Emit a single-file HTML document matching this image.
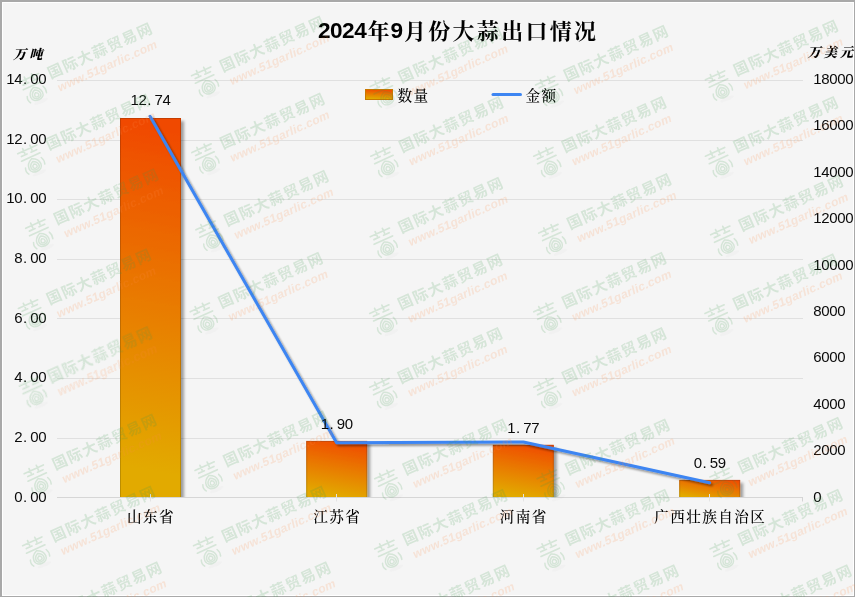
<!DOCTYPE html>
<html lang="zh-CN"><head><meta charset="utf-8"><title>2024年9月份大蒜出口情况</title>
<style>
html,body{margin:0;padding:0;background:#f5f5f5;}
body{width:855px;height:597px;overflow:hidden;}
svg{display:block}
.n{font-family:"Liberation Sans","Noto Sans CJK SC",sans-serif;font-size:15px;fill:#0a0a0a}
.k{font-family:"Liberation Serif","Noto Serif CJK SC",serif;font-size:14.6px;font-weight:500;fill:#000;letter-spacing:1.4px}
.kb{font-family:"Liberation Serif","Noto Serif CJK SC",serif;font-size:13.2px;font-weight:900;font-style:italic;fill:#000;letter-spacing:3px}
.t{font-family:"Liberation Serif","Noto Serif CJK SC",serif;font-size:22px;font-weight:700;fill:#000}
.td{font-family:"Liberation Sans","Noto Sans CJK SC",sans-serif;font-size:22.6px;font-weight:700;fill:#000}
.wg{font-family:"Liberation Sans","Noto Sans CJK SC",sans-serif;font-size:15px;font-weight:700;fill:#3f9a4c;letter-spacing:1.3px}
.wo{font-family:"Liberation Sans","Noto Sans CJK SC",sans-serif;font-size:12px;font-weight:700;font-style:italic;fill:#ff8c46;letter-spacing:.25px}
</style></head><body>
<svg width="855" height="597" viewBox="0 0 855 597">
<defs>
<linearGradient id="bg" x1="0.56" y1="0" x2="0.44" y2="1">
<stop offset="0" stop-color="#f04a00"/><stop offset="1" stop-color="#e0b000"/>
</linearGradient>
<linearGradient id="bgs" x1="0.56" y1="0" x2="0.44" y2="1">
<stop offset="0" stop-color="#c63c00"/><stop offset="1" stop-color="#bd9200"/>
</linearGradient>
<filter id="sh" x="-20%" y="-20%" width="150%" height="140%">
<feGaussianBlur in="SourceAlpha" stdDeviation="1.4"/><feOffset dx="2.5" dy="2.5"/>
<feComponentTransfer><feFuncA type="linear" slope="0.36"/></feComponentTransfer>
<feMerge><feMergeNode/><feMergeNode in="SourceGraphic"/></feMerge>
</filter>
<filter id="shl" x="-5%" y="-5%" width="110%" height="115%" filterUnits="userSpaceOnUse">
<feGaussianBlur in="SourceAlpha" stdDeviation="1.1"/><feOffset dx="1.5" dy="2.4"/>
<feComponentTransfer><feFuncA type="linear" slope="0.42"/></feComponentTransfer>
<feMerge><feMergeNode/><feMergeNode in="SourceGraphic"/></feMerge>
</filter>
</defs>

<rect x="0" y="0" width="855" height="597" fill="#a9a9a9"/>
<rect x="2" y="2" width="852" height="594" fill="#ffffff"/>
<rect x="3" y="3" width="850" height="592" fill="#f5f5f5"/>
<line x1="57.0" y1="80.5" x2="803.0" y2="80.5" stroke="#e0e0e0" stroke-width="1"/>
<line x1="57.0" y1="140.5" x2="803.0" y2="140.5" stroke="#e0e0e0" stroke-width="1"/>
<line x1="57.0" y1="199.5" x2="803.0" y2="199.5" stroke="#e0e0e0" stroke-width="1"/>
<line x1="57.0" y1="259.5" x2="803.0" y2="259.5" stroke="#e0e0e0" stroke-width="1"/>
<line x1="57.0" y1="318.5" x2="803.0" y2="318.5" stroke="#e0e0e0" stroke-width="1"/>
<line x1="57.0" y1="378.5" x2="803.0" y2="378.5" stroke="#e0e0e0" stroke-width="1"/>
<line x1="57.0" y1="438.5" x2="803.0" y2="438.5" stroke="#e0e0e0" stroke-width="1"/>
<line x1="57.0" y1="497.5" x2="803.0" y2="497.5" stroke="#d6d6d6" stroke-width="1"/>
<line x1="802.5" y1="497" x2="802.5" y2="501.5" stroke="#d4d4d4" stroke-width="1"/>
<clipPath id="pc"><rect x="0" y="0" width="855" height="497"/></clipPath><g clip-path="url(#pc)">
<linearGradient id="g0" gradientUnits="userSpaceOnUse" x1="181.0" y1="118.0" x2="114.4" y2="496.0"><stop offset="0.04" stop-color="#f04a00"/><stop offset="0.92" stop-color="#e2aa00"/></linearGradient>
<linearGradient id="s0" gradientUnits="userSpaceOnUse" x1="181.0" y1="118.0" x2="114.4" y2="496.0"><stop offset="0.04" stop-color="#c63c00"/><stop offset="0.92" stop-color="#bd8e00"/></linearGradient>
<rect x="120.5" y="118.5" width="60.0" height="379.0" fill="url(#g0)" stroke="url(#s0)" stroke-width="1" filter="url(#sh)"/>
<linearGradient id="g1" gradientUnits="userSpaceOnUse" x1="367.2" y1="440.9" x2="355.8" y2="505.7"><stop offset="0.04" stop-color="#f04a00"/><stop offset="0.92" stop-color="#e2aa00"/></linearGradient>
<linearGradient id="s1" gradientUnits="userSpaceOnUse" x1="367.2" y1="440.9" x2="355.8" y2="505.7"><stop offset="0.04" stop-color="#c63c00"/><stop offset="0.92" stop-color="#bd8e00"/></linearGradient>
<rect x="306.7" y="441.4" width="60.0" height="56.1" fill="url(#g1)" stroke="url(#s1)" stroke-width="1" filter="url(#sh)"/>
<linearGradient id="g2" gradientUnits="userSpaceOnUse" x1="553.8" y1="444.8" x2="543.0" y2="505.9"><stop offset="0.04" stop-color="#f04a00"/><stop offset="0.92" stop-color="#e2aa00"/></linearGradient>
<linearGradient id="s2" gradientUnits="userSpaceOnUse" x1="553.8" y1="444.8" x2="543.0" y2="505.9"><stop offset="0.04" stop-color="#c63c00"/><stop offset="0.92" stop-color="#bd8e00"/></linearGradient>
<rect x="493.3" y="445.3" width="60.0" height="52.2" fill="url(#g2)" stroke="url(#s2)" stroke-width="1" filter="url(#sh)"/>
<linearGradient id="g3" gradientUnits="userSpaceOnUse" x1="740.2" y1="479.9" x2="735.4" y2="506.9"><stop offset="0.04" stop-color="#f04a00"/><stop offset="0.92" stop-color="#e2aa00"/></linearGradient>
<linearGradient id="s3" gradientUnits="userSpaceOnUse" x1="740.2" y1="479.9" x2="735.4" y2="506.9"><stop offset="0.04" stop-color="#c63c00"/><stop offset="0.92" stop-color="#bd8e00"/></linearGradient>
<rect x="679.7" y="480.4" width="60.0" height="17.1" fill="url(#g3)" stroke="url(#s3)" stroke-width="1" filter="url(#sh)"/>
</g>
<line x1="150.5" y1="494" x2="150.5" y2="501.5" stroke="#e4e4e4" stroke-width="1"/>
<line x1="336.5" y1="494" x2="336.5" y2="501.5" stroke="#e4e4e4" stroke-width="1"/>
<line x1="523.5" y1="494" x2="523.5" y2="501.5" stroke="#e4e4e4" stroke-width="1"/>
<line x1="709.5" y1="494" x2="709.5" y2="501.5" stroke="#e4e4e4" stroke-width="1"/>
<polyline points="150.0,116.3 336.6,442.8 523.4,442.0 709.6,482.8" fill="none" stroke="#3d85f2" stroke-width="3" stroke-linejoin="round" stroke-linecap="round" filter="url(#shl)"/>
<text x="6.3 14.3 23.1 30.3 38.3" y="83.8" class="n" >14.00</text>
<text x="6.3 14.3 23.1 30.3 38.3" y="143.5" class="n" >12.00</text>
<text x="6.3 14.3 23.1 30.3 38.3" y="203.3" class="n" >10.00</text>
<text x="14.3 23.1 30.3 38.3" y="263.0" class="n" >8.00</text>
<text x="14.3 23.1 30.3 38.3" y="322.7" class="n" >6.00</text>
<text x="14.3 23.1 30.3 38.3" y="382.4" class="n" >4.00</text>
<text x="14.3 23.1 30.3 38.3" y="442.2" class="n" >2.00</text>
<text x="14.3 23.1 30.3 38.3" y="501.9" class="n" >0.00</text>
<text x="813.3 821.3 829.3 837.3 845.3" y="84.0" class="n" >18000</text>
<text x="813.3 821.3 829.3 837.3 845.3" y="130.4" class="n" >16000</text>
<text x="813.3 821.3 829.3 837.3 845.3" y="176.8" class="n" >14000</text>
<text x="813.3 821.3 829.3 837.3 845.3" y="223.2" class="n" >12000</text>
<text x="813.3 821.3 829.3 837.3 845.3" y="269.6" class="n" >10000</text>
<text x="813.3 821.3 829.3 837.3" y="315.9" class="n" >8000</text>
<text x="813.3 821.3 829.3 837.3" y="362.3" class="n" >6000</text>
<text x="813.3 821.3 829.3 837.3" y="408.7" class="n" >4000</text>
<text x="813.3 821.3 829.3 837.3" y="455.1" class="n" >2000</text>
<text x="813.3" y="501.5" class="n" >0</text>
<text x="130.5 138.5 147.3 154.5 162.5" y="105.2" class="n" >12.74</text>
<text x="320.7 329.5 336.7 344.7" y="428.5" class="n" >1.90</text>
<text x="507.3 516.1 523.3 531.3" y="432.6" class="n" >1.77</text>
<text x="693.7 702.5 709.7 717.7" y="468.4" class="n" >0.59</text>
<text x="151.0" y="522.3" text-anchor="middle" class="k">山东省</text>
<text x="337.2" y="522.3" text-anchor="middle" class="k">江苏省</text>
<text x="523.8" y="522.3" text-anchor="middle" class="k">河南省</text>
<text x="710.2" y="522.3" text-anchor="middle" class="k">广西壮族自治区</text>
<text x="13" y="59.3" class="kb">万吨</text>
<text x="807.5" y="57.3" class="kb">万美元</text>
<rect x="365.5" y="89.5" width="27" height="10" fill="url(#bg)" stroke="#c87800" stroke-width="1"/>
<text x="397.5" y="100.8" class="k" letter-spacing="1.8">数量</text>
<line x1="493" y1="94.5" x2="520.5" y2="94.5" stroke="#3d85f2" stroke-width="3" stroke-linecap="round"/>
<text x="525.5" y="100.8" class="k" letter-spacing="1.8">金额</text>
<text class="t" x="317.90 330.00 342.10 354.20 367.55 390.60 403.95 428.25 452.55 476.85 501.15 525.45 549.75 574.05" y="37.9 37.9 37.9 37.9 38.6 37.9 38.6 38.6 38.6 38.6 38.6 38.6 38.6 38.6"><tspan class="td">2024</tspan>年<tspan class="td">9</tspan>月份大蒜出口情况</text>
<g opacity="0.172">
<g transform="translate(35.0,87.0) rotate(-24.3)"><g transform="translate(-1.7,0.7) scale(0.88)"><g fill="none" stroke="#3f9a4c" stroke-width="1.9" stroke-linecap="round"><path d="M-12,-13H12M-4.5,-16V-10M4.5,-16V-10"/><path d="M-9.5,-8.3H-2.5M2.5,-8.3H9.5M-11.5,-3.4H11.5"/><path d="M0,-1.18C5.47,1.16 7.30,4.81 7.30,8.10C7.30,12.11 4.02,14.30 0,14.30C-4.02,14.30 -7.30,12.11 -7.30,8.10C-7.30,4.81 -5.47,1.16 0,-1.18Z" stroke-width="1.7"/><path d="M0,2.12C3.60,3.66 4.80,6.06 4.80,8.22C4.80,10.86 2.64,12.30 0,12.30C-2.64,12.30 -4.80,10.86 -4.80,8.22C-4.80,6.06 -3.60,3.66 0,2.12Z" stroke-width="1.7"/><path d="M0,5.31C1.80,6.08 2.40,7.28 2.40,8.36C2.40,9.68 1.32,10.40 0,10.40C-1.32,10.40 -2.40,9.68 -2.40,8.36C-2.40,7.28 -1.80,6.08 0,5.31Z" stroke-width="1.6"/><path d="M-10.6,5.5C-11.8,8 -11.6,11 -10,13.5M10.6,2C12,4.500 12.2,7.500 11.2,10.5" stroke-width="1.7"/></g><ellipse cx="1.5" cy="17" rx="8.5" ry="2.2" fill="#777" opacity="0.16"/></g><text x="17.5" y="-1" class="wg">国际大蒜贸易网</text><text x="20.5" y="14.5" class="wo">www.51garlic.com</text></g>
<g transform="translate(207.1,80.4) rotate(-24.3)"><g transform="translate(-1.7,0.7) scale(0.88)"><g fill="none" stroke="#3f9a4c" stroke-width="1.9" stroke-linecap="round"><path d="M-12,-13H12M-4.5,-16V-10M4.5,-16V-10"/><path d="M-9.5,-8.3H-2.5M2.5,-8.3H9.5M-11.5,-3.4H11.5"/><path d="M0,-1.18C5.47,1.16 7.30,4.81 7.30,8.10C7.30,12.11 4.02,14.30 0,14.30C-4.02,14.30 -7.30,12.11 -7.30,8.10C-7.30,4.81 -5.47,1.16 0,-1.18Z" stroke-width="1.7"/><path d="M0,2.12C3.60,3.66 4.80,6.06 4.80,8.22C4.80,10.86 2.64,12.30 0,12.30C-2.64,12.30 -4.80,10.86 -4.80,8.22C-4.80,6.06 -3.60,3.66 0,2.12Z" stroke-width="1.7"/><path d="M0,5.31C1.80,6.08 2.40,7.28 2.40,8.36C2.40,9.68 1.32,10.40 0,10.40C-1.32,10.40 -2.40,9.68 -2.40,8.36C-2.40,7.28 -1.80,6.08 0,5.31Z" stroke-width="1.6"/><path d="M-10.6,5.5C-11.8,8 -11.6,11 -10,13.5M10.6,2C12,4.500 12.2,7.500 11.2,10.5" stroke-width="1.7"/></g><ellipse cx="1.5" cy="17" rx="8.5" ry="2.2" fill="#777" opacity="0.16"/></g><text x="17.5" y="-1" class="wg">国际大蒜贸易网</text><text x="20.5" y="14.5" class="wo">www.51garlic.com</text></g>
<g transform="translate(385.8,91.3) rotate(-24.3)"><g transform="translate(-1.7,0.7) scale(0.88)"><g fill="none" stroke="#3f9a4c" stroke-width="1.9" stroke-linecap="round"><path d="M-12,-13H12M-4.5,-16V-10M4.5,-16V-10"/><path d="M-9.5,-8.3H-2.5M2.5,-8.3H9.5M-11.5,-3.4H11.5"/><path d="M0,-1.18C5.47,1.16 7.30,4.81 7.30,8.10C7.30,12.11 4.02,14.30 0,14.30C-4.02,14.30 -7.30,12.11 -7.30,8.10C-7.30,4.81 -5.47,1.16 0,-1.18Z" stroke-width="1.7"/><path d="M0,2.12C3.60,3.66 4.80,6.06 4.80,8.22C4.80,10.86 2.64,12.30 0,12.30C-2.64,12.30 -4.80,10.86 -4.80,8.22C-4.80,6.06 -3.60,3.66 0,2.12Z" stroke-width="1.7"/><path d="M0,5.31C1.80,6.08 2.40,7.28 2.40,8.36C2.40,9.68 1.32,10.40 0,10.40C-1.32,10.40 -2.40,9.68 -2.40,8.36C-2.40,7.28 -1.80,6.08 0,5.31Z" stroke-width="1.6"/><path d="M-10.6,5.5C-11.8,8 -11.6,11 -10,13.5M10.6,2C12,4.500 12.2,7.500 11.2,10.5" stroke-width="1.7"/></g><ellipse cx="1.5" cy="17" rx="8.5" ry="2.2" fill="#777" opacity="0.16"/></g><text x="17.5" y="-1" class="wg">国际大蒜贸易网</text><text x="20.5" y="14.5" class="wo">www.51garlic.com</text></g>
<g transform="translate(551.1,89.7) rotate(-24.3)"><g transform="translate(-1.7,0.7) scale(0.88)"><g fill="none" stroke="#3f9a4c" stroke-width="1.9" stroke-linecap="round"><path d="M-12,-13H12M-4.5,-16V-10M4.5,-16V-10"/><path d="M-9.5,-8.3H-2.5M2.5,-8.3H9.5M-11.5,-3.4H11.5"/><path d="M0,-1.18C5.47,1.16 7.30,4.81 7.30,8.10C7.30,12.11 4.02,14.30 0,14.30C-4.02,14.30 -7.30,12.11 -7.30,8.10C-7.30,4.81 -5.47,1.16 0,-1.18Z" stroke-width="1.7"/><path d="M0,2.12C3.60,3.66 4.80,6.06 4.80,8.22C4.80,10.86 2.64,12.30 0,12.30C-2.64,12.30 -4.80,10.86 -4.80,8.22C-4.80,6.06 -3.60,3.66 0,2.12Z" stroke-width="1.7"/><path d="M0,5.31C1.80,6.08 2.40,7.28 2.40,8.36C2.40,9.68 1.32,10.40 0,10.40C-1.32,10.40 -2.40,9.68 -2.40,8.36C-2.40,7.28 -1.80,6.08 0,5.31Z" stroke-width="1.6"/><path d="M-10.6,5.5C-11.8,8 -11.6,11 -10,13.5M10.6,2C12,4.500 12.2,7.500 11.2,10.5" stroke-width="1.7"/></g><ellipse cx="1.5" cy="17" rx="8.5" ry="2.2" fill="#777" opacity="0.16"/></g><text x="17.5" y="-1" class="wg">国际大蒜贸易网</text><text x="20.5" y="14.5" class="wo">www.51garlic.com</text></g>
<g transform="translate(721.0,84.4) rotate(-24.3)"><g transform="translate(-1.7,0.7) scale(0.88)"><g fill="none" stroke="#3f9a4c" stroke-width="1.9" stroke-linecap="round"><path d="M-12,-13H12M-4.5,-16V-10M4.5,-16V-10"/><path d="M-9.5,-8.3H-2.5M2.5,-8.3H9.5M-11.5,-3.4H11.5"/><path d="M0,-1.18C5.47,1.16 7.30,4.81 7.30,8.10C7.30,12.11 4.02,14.30 0,14.30C-4.02,14.30 -7.30,12.11 -7.30,8.10C-7.30,4.81 -5.47,1.16 0,-1.18Z" stroke-width="1.7"/><path d="M0,2.12C3.60,3.66 4.80,6.06 4.80,8.22C4.80,10.86 2.64,12.30 0,12.30C-2.64,12.30 -4.80,10.86 -4.80,8.22C-4.80,6.06 -3.60,3.66 0,2.12Z" stroke-width="1.7"/><path d="M0,5.31C1.80,6.08 2.40,7.28 2.40,8.36C2.40,9.68 1.32,10.40 0,10.40C-1.32,10.40 -2.40,9.68 -2.40,8.36C-2.40,7.28 -1.80,6.08 0,5.31Z" stroke-width="1.6"/><path d="M-10.6,5.5C-11.8,8 -11.6,11 -10,13.5M10.6,2C12,4.500 12.2,7.500 11.2,10.5" stroke-width="1.7"/></g><ellipse cx="1.5" cy="17" rx="8.5" ry="2.2" fill="#777" opacity="0.16"/></g><text x="17.5" y="-1" class="wg">国际大蒜贸易网</text><text x="20.5" y="14.5" class="wo">www.51garlic.com</text></g>
<g transform="translate(33.3,158.4) rotate(-24.3)"><g transform="translate(-1.7,0.7) scale(0.88)"><g fill="none" stroke="#3f9a4c" stroke-width="1.9" stroke-linecap="round"><path d="M-12,-13H12M-4.5,-16V-10M4.5,-16V-10"/><path d="M-9.5,-8.3H-2.5M2.5,-8.3H9.5M-11.5,-3.4H11.5"/><path d="M0,-1.18C5.47,1.16 7.30,4.81 7.30,8.10C7.30,12.11 4.02,14.30 0,14.30C-4.02,14.30 -7.30,12.11 -7.30,8.10C-7.30,4.81 -5.47,1.16 0,-1.18Z" stroke-width="1.7"/><path d="M0,2.12C3.60,3.66 4.80,6.06 4.80,8.22C4.80,10.86 2.64,12.30 0,12.30C-2.64,12.30 -4.80,10.86 -4.80,8.22C-4.80,6.06 -3.60,3.66 0,2.12Z" stroke-width="1.7"/><path d="M0,5.31C1.80,6.08 2.40,7.28 2.40,8.36C2.40,9.68 1.32,10.40 0,10.40C-1.32,10.40 -2.40,9.68 -2.40,8.36C-2.40,7.28 -1.80,6.08 0,5.31Z" stroke-width="1.6"/><path d="M-10.6,5.5C-11.8,8 -11.6,11 -10,13.5M10.6,2C12,4.500 12.2,7.500 11.2,10.5" stroke-width="1.7"/></g><ellipse cx="1.5" cy="17" rx="8.5" ry="2.2" fill="#777" opacity="0.16"/></g><text x="17.5" y="-1" class="wg">国际大蒜贸易网</text><text x="20.5" y="14.5" class="wo">www.51garlic.com</text></g>
<g transform="translate(207.5,157.3) rotate(-24.3)"><g transform="translate(-1.7,0.7) scale(0.88)"><g fill="none" stroke="#3f9a4c" stroke-width="1.9" stroke-linecap="round"><path d="M-12,-13H12M-4.5,-16V-10M4.5,-16V-10"/><path d="M-9.5,-8.3H-2.5M2.5,-8.3H9.5M-11.5,-3.4H11.5"/><path d="M0,-1.18C5.47,1.16 7.30,4.81 7.30,8.10C7.30,12.11 4.02,14.30 0,14.30C-4.02,14.30 -7.30,12.11 -7.30,8.10C-7.30,4.81 -5.47,1.16 0,-1.18Z" stroke-width="1.7"/><path d="M0,2.12C3.60,3.66 4.80,6.06 4.80,8.22C4.80,10.86 2.64,12.30 0,12.30C-2.64,12.30 -4.80,10.86 -4.80,8.22C-4.80,6.06 -3.60,3.66 0,2.12Z" stroke-width="1.7"/><path d="M0,5.31C1.80,6.08 2.40,7.28 2.40,8.36C2.40,9.68 1.32,10.40 0,10.40C-1.32,10.40 -2.40,9.68 -2.40,8.36C-2.40,7.28 -1.80,6.08 0,5.31Z" stroke-width="1.6"/><path d="M-10.6,5.5C-11.8,8 -11.6,11 -10,13.5M10.6,2C12,4.500 12.2,7.500 11.2,10.5" stroke-width="1.7"/></g><ellipse cx="1.5" cy="17" rx="8.5" ry="2.2" fill="#777" opacity="0.16"/></g><text x="17.5" y="-1" class="wg">国际大蒜贸易网</text><text x="20.5" y="14.5" class="wo">www.51garlic.com</text></g>
<g transform="translate(386.4,160.9) rotate(-24.3)"><g transform="translate(-1.7,0.7) scale(0.88)"><g fill="none" stroke="#3f9a4c" stroke-width="1.9" stroke-linecap="round"><path d="M-12,-13H12M-4.5,-16V-10M4.5,-16V-10"/><path d="M-9.5,-8.3H-2.5M2.5,-8.3H9.5M-11.5,-3.4H11.5"/><path d="M0,-1.18C5.47,1.16 7.30,4.81 7.30,8.10C7.30,12.11 4.02,14.30 0,14.30C-4.02,14.30 -7.30,12.11 -7.30,8.10C-7.30,4.81 -5.47,1.16 0,-1.18Z" stroke-width="1.7"/><path d="M0,2.12C3.60,3.66 4.80,6.06 4.80,8.22C4.80,10.86 2.64,12.30 0,12.30C-2.64,12.30 -4.80,10.86 -4.80,8.22C-4.80,6.06 -3.60,3.66 0,2.12Z" stroke-width="1.7"/><path d="M0,5.31C1.80,6.08 2.40,7.28 2.40,8.36C2.40,9.68 1.32,10.40 0,10.40C-1.32,10.40 -2.40,9.68 -2.40,8.36C-2.40,7.28 -1.80,6.08 0,5.31Z" stroke-width="1.6"/><path d="M-10.6,5.5C-11.8,8 -11.6,11 -10,13.5M10.6,2C12,4.500 12.2,7.500 11.2,10.5" stroke-width="1.7"/></g><ellipse cx="1.5" cy="17" rx="8.5" ry="2.2" fill="#777" opacity="0.16"/></g><text x="17.5" y="-1" class="wg">国际大蒜贸易网</text><text x="20.5" y="14.5" class="wo">www.51garlic.com</text></g>
<g transform="translate(549.3,160.9) rotate(-24.3)"><g transform="translate(-1.7,0.7) scale(0.88)"><g fill="none" stroke="#3f9a4c" stroke-width="1.9" stroke-linecap="round"><path d="M-12,-13H12M-4.5,-16V-10M4.5,-16V-10"/><path d="M-9.5,-8.3H-2.5M2.5,-8.3H9.5M-11.5,-3.4H11.5"/><path d="M0,-1.18C5.47,1.16 7.30,4.81 7.30,8.10C7.30,12.11 4.02,14.30 0,14.30C-4.02,14.30 -7.30,12.11 -7.30,8.10C-7.30,4.81 -5.47,1.16 0,-1.18Z" stroke-width="1.7"/><path d="M0,2.12C3.60,3.66 4.80,6.06 4.80,8.22C4.80,10.86 2.64,12.30 0,12.30C-2.64,12.30 -4.80,10.86 -4.80,8.22C-4.80,6.06 -3.60,3.66 0,2.12Z" stroke-width="1.7"/><path d="M0,5.31C1.80,6.08 2.40,7.28 2.40,8.36C2.40,9.68 1.32,10.40 0,10.40C-1.32,10.40 -2.40,9.68 -2.40,8.36C-2.40,7.28 -1.80,6.08 0,5.31Z" stroke-width="1.6"/><path d="M-10.6,5.5C-11.8,8 -11.6,11 -10,13.5M10.6,2C12,4.500 12.2,7.500 11.2,10.5" stroke-width="1.7"/></g><ellipse cx="1.5" cy="17" rx="8.5" ry="2.2" fill="#777" opacity="0.16"/></g><text x="17.5" y="-1" class="wg">国际大蒜贸易网</text><text x="20.5" y="14.5" class="wo">www.51garlic.com</text></g>
<g transform="translate(721.0,160.9) rotate(-24.3)"><g transform="translate(-1.7,0.7) scale(0.88)"><g fill="none" stroke="#3f9a4c" stroke-width="1.9" stroke-linecap="round"><path d="M-12,-13H12M-4.5,-16V-10M4.5,-16V-10"/><path d="M-9.5,-8.3H-2.5M2.5,-8.3H9.5M-11.5,-3.4H11.5"/><path d="M0,-1.18C5.47,1.16 7.30,4.81 7.30,8.10C7.30,12.11 4.02,14.30 0,14.30C-4.02,14.30 -7.30,12.11 -7.30,8.10C-7.30,4.81 -5.47,1.16 0,-1.18Z" stroke-width="1.7"/><path d="M0,2.12C3.60,3.66 4.80,6.06 4.80,8.22C4.80,10.86 2.64,12.30 0,12.30C-2.64,12.30 -4.80,10.86 -4.80,8.22C-4.80,6.06 -3.60,3.66 0,2.12Z" stroke-width="1.7"/><path d="M0,5.31C1.80,6.08 2.40,7.28 2.40,8.36C2.40,9.68 1.32,10.40 0,10.40C-1.32,10.40 -2.40,9.68 -2.40,8.36C-2.40,7.28 -1.80,6.08 0,5.31Z" stroke-width="1.6"/><path d="M-10.6,5.5C-11.8,8 -11.6,11 -10,13.5M10.6,2C12,4.500 12.2,7.500 11.2,10.5" stroke-width="1.7"/></g><ellipse cx="1.5" cy="17" rx="8.5" ry="2.2" fill="#777" opacity="0.16"/></g><text x="17.5" y="-1" class="wg">国际大蒜贸易网</text><text x="20.5" y="14.5" class="wo">www.51garlic.com</text></g>
<g transform="translate(41.3,233.0) rotate(-24.3)"><g transform="translate(-1.7,0.7) scale(0.88)"><g fill="none" stroke="#3f9a4c" stroke-width="1.9" stroke-linecap="round"><path d="M-12,-13H12M-4.5,-16V-10M4.5,-16V-10"/><path d="M-9.5,-8.3H-2.5M2.5,-8.3H9.5M-11.5,-3.4H11.5"/><path d="M0,-1.18C5.47,1.16 7.30,4.81 7.30,8.10C7.30,12.11 4.02,14.30 0,14.30C-4.02,14.30 -7.30,12.11 -7.30,8.10C-7.30,4.81 -5.47,1.16 0,-1.18Z" stroke-width="1.7"/><path d="M0,2.12C3.60,3.66 4.80,6.06 4.80,8.22C4.80,10.86 2.64,12.30 0,12.30C-2.64,12.30 -4.80,10.86 -4.80,8.22C-4.80,6.06 -3.60,3.66 0,2.12Z" stroke-width="1.7"/><path d="M0,5.31C1.80,6.08 2.40,7.28 2.40,8.36C2.40,9.68 1.32,10.40 0,10.40C-1.32,10.40 -2.40,9.68 -2.40,8.36C-2.40,7.28 -1.80,6.08 0,5.31Z" stroke-width="1.6"/><path d="M-10.6,5.5C-11.8,8 -11.6,11 -10,13.5M10.6,2C12,4.500 12.2,7.500 11.2,10.5" stroke-width="1.7"/></g><ellipse cx="1.5" cy="17" rx="8.5" ry="2.2" fill="#777" opacity="0.16"/></g><text x="17.5" y="-1" class="wg">国际大蒜贸易网</text><text x="20.5" y="14.5" class="wo">www.51garlic.com</text></g>
<g transform="translate(211.5,234.5) rotate(-24.3)"><g transform="translate(-1.7,0.7) scale(0.88)"><g fill="none" stroke="#3f9a4c" stroke-width="1.9" stroke-linecap="round"><path d="M-12,-13H12M-4.5,-16V-10M4.5,-16V-10"/><path d="M-9.5,-8.3H-2.5M2.5,-8.3H9.5M-11.5,-3.4H11.5"/><path d="M0,-1.18C5.47,1.16 7.30,4.81 7.30,8.10C7.30,12.11 4.02,14.30 0,14.30C-4.02,14.30 -7.30,12.11 -7.30,8.10C-7.30,4.81 -5.47,1.16 0,-1.18Z" stroke-width="1.7"/><path d="M0,2.12C3.60,3.66 4.80,6.06 4.80,8.22C4.80,10.86 2.64,12.30 0,12.30C-2.64,12.30 -4.80,10.86 -4.80,8.22C-4.80,6.06 -3.60,3.66 0,2.12Z" stroke-width="1.7"/><path d="M0,5.31C1.80,6.08 2.40,7.28 2.40,8.36C2.40,9.68 1.32,10.40 0,10.40C-1.32,10.40 -2.40,9.68 -2.40,8.36C-2.40,7.28 -1.80,6.08 0,5.31Z" stroke-width="1.6"/><path d="M-10.6,5.5C-11.8,8 -11.6,11 -10,13.5M10.6,2C12,4.500 12.2,7.500 11.2,10.5" stroke-width="1.7"/></g><ellipse cx="1.5" cy="17" rx="8.5" ry="2.2" fill="#777" opacity="0.16"/></g><text x="17.5" y="-1" class="wg">国际大蒜贸易网</text><text x="20.5" y="14.5" class="wo">www.51garlic.com</text></g>
<g transform="translate(385.8,241.5) rotate(-24.3)"><g transform="translate(-1.7,0.7) scale(0.88)"><g fill="none" stroke="#3f9a4c" stroke-width="1.9" stroke-linecap="round"><path d="M-12,-13H12M-4.5,-16V-10M4.5,-16V-10"/><path d="M-9.5,-8.3H-2.5M2.5,-8.3H9.5M-11.5,-3.4H11.5"/><path d="M0,-1.18C5.47,1.16 7.30,4.81 7.30,8.10C7.30,12.11 4.02,14.30 0,14.30C-4.02,14.30 -7.30,12.11 -7.30,8.10C-7.30,4.81 -5.47,1.16 0,-1.18Z" stroke-width="1.7"/><path d="M0,2.12C3.60,3.66 4.80,6.06 4.80,8.22C4.80,10.86 2.64,12.30 0,12.30C-2.64,12.30 -4.80,10.86 -4.80,8.22C-4.80,6.06 -3.60,3.66 0,2.12Z" stroke-width="1.7"/><path d="M0,5.31C1.80,6.08 2.40,7.28 2.40,8.36C2.40,9.68 1.32,10.40 0,10.40C-1.32,10.40 -2.40,9.68 -2.40,8.36C-2.40,7.28 -1.80,6.08 0,5.31Z" stroke-width="1.6"/><path d="M-10.6,5.5C-11.8,8 -11.6,11 -10,13.5M10.6,2C12,4.500 12.2,7.500 11.2,10.5" stroke-width="1.7"/></g><ellipse cx="1.5" cy="17" rx="8.5" ry="2.2" fill="#777" opacity="0.16"/></g><text x="17.5" y="-1" class="wg">国际大蒜贸易网</text><text x="20.5" y="14.5" class="wo">www.51garlic.com</text></g>
<g transform="translate(554.4,237.8) rotate(-24.3)"><g transform="translate(-1.7,0.7) scale(0.88)"><g fill="none" stroke="#3f9a4c" stroke-width="1.9" stroke-linecap="round"><path d="M-12,-13H12M-4.5,-16V-10M4.5,-16V-10"/><path d="M-9.5,-8.3H-2.5M2.5,-8.3H9.5M-11.5,-3.4H11.5"/><path d="M0,-1.18C5.47,1.16 7.30,4.81 7.30,8.10C7.30,12.11 4.02,14.30 0,14.30C-4.02,14.30 -7.30,12.11 -7.30,8.10C-7.30,4.81 -5.47,1.16 0,-1.18Z" stroke-width="1.7"/><path d="M0,2.12C3.60,3.66 4.80,6.06 4.80,8.22C4.80,10.86 2.64,12.30 0,12.30C-2.64,12.30 -4.80,10.86 -4.80,8.22C-4.80,6.06 -3.60,3.66 0,2.12Z" stroke-width="1.7"/><path d="M0,5.31C1.80,6.08 2.40,7.28 2.40,8.36C2.40,9.68 1.32,10.40 0,10.40C-1.32,10.40 -2.40,9.68 -2.40,8.36C-2.40,7.28 -1.80,6.08 0,5.31Z" stroke-width="1.6"/><path d="M-10.6,5.5C-11.8,8 -11.6,11 -10,13.5M10.6,2C12,4.500 12.2,7.500 11.2,10.5" stroke-width="1.7"/></g><ellipse cx="1.5" cy="17" rx="8.5" ry="2.2" fill="#777" opacity="0.16"/></g><text x="17.5" y="-1" class="wg">国际大蒜贸易网</text><text x="20.5" y="14.5" class="wo">www.51garlic.com</text></g>
<g transform="translate(726.2,239.5) rotate(-24.3)"><g transform="translate(-1.7,0.7) scale(0.88)"><g fill="none" stroke="#3f9a4c" stroke-width="1.9" stroke-linecap="round"><path d="M-12,-13H12M-4.5,-16V-10M4.5,-16V-10"/><path d="M-9.5,-8.3H-2.5M2.5,-8.3H9.5M-11.5,-3.4H11.5"/><path d="M0,-1.18C5.47,1.16 7.30,4.81 7.30,8.10C7.30,12.11 4.02,14.30 0,14.30C-4.02,14.30 -7.30,12.11 -7.30,8.10C-7.30,4.81 -5.47,1.16 0,-1.18Z" stroke-width="1.7"/><path d="M0,2.12C3.60,3.66 4.80,6.06 4.80,8.22C4.80,10.86 2.64,12.30 0,12.30C-2.64,12.30 -4.80,10.86 -4.80,8.22C-4.80,6.06 -3.60,3.66 0,2.12Z" stroke-width="1.7"/><path d="M0,5.31C1.80,6.08 2.40,7.28 2.40,8.36C2.40,9.68 1.32,10.40 0,10.40C-1.32,10.40 -2.40,9.68 -2.40,8.36C-2.40,7.28 -1.80,6.08 0,5.31Z" stroke-width="1.6"/><path d="M-10.6,5.5C-11.8,8 -11.6,11 -10,13.5M10.6,2C12,4.500 12.2,7.500 11.2,10.5" stroke-width="1.7"/></g><ellipse cx="1.5" cy="17" rx="8.5" ry="2.2" fill="#777" opacity="0.16"/></g><text x="17.5" y="-1" class="wg">国际大蒜贸易网</text><text x="20.5" y="14.5" class="wo">www.51garlic.com</text></g>
<g transform="translate(34.0,313.2) rotate(-24.3)"><g transform="translate(-1.7,0.7) scale(0.88)"><g fill="none" stroke="#3f9a4c" stroke-width="1.9" stroke-linecap="round"><path d="M-12,-13H12M-4.5,-16V-10M4.5,-16V-10"/><path d="M-9.5,-8.3H-2.5M2.5,-8.3H9.5M-11.5,-3.4H11.5"/><path d="M0,-1.18C5.47,1.16 7.30,4.81 7.30,8.10C7.30,12.11 4.02,14.30 0,14.30C-4.02,14.30 -7.30,12.11 -7.30,8.10C-7.30,4.81 -5.47,1.16 0,-1.18Z" stroke-width="1.7"/><path d="M0,2.12C3.60,3.66 4.80,6.06 4.80,8.22C4.80,10.86 2.64,12.30 0,12.30C-2.64,12.30 -4.80,10.86 -4.80,8.22C-4.80,6.06 -3.60,3.66 0,2.12Z" stroke-width="1.7"/><path d="M0,5.31C1.80,6.08 2.40,7.28 2.40,8.36C2.40,9.68 1.32,10.40 0,10.40C-1.32,10.40 -2.40,9.68 -2.40,8.36C-2.40,7.28 -1.80,6.08 0,5.31Z" stroke-width="1.6"/><path d="M-10.6,5.5C-11.8,8 -11.6,11 -10,13.5M10.6,2C12,4.500 12.2,7.500 11.2,10.5" stroke-width="1.7"/></g><ellipse cx="1.5" cy="17" rx="8.5" ry="2.2" fill="#777" opacity="0.16"/></g><text x="17.5" y="-1" class="wg">国际大蒜贸易网</text><text x="20.5" y="14.5" class="wo">www.51garlic.com</text></g>
<g transform="translate(205.8,316.5) rotate(-24.3)"><g transform="translate(-1.7,0.7) scale(0.88)"><g fill="none" stroke="#3f9a4c" stroke-width="1.9" stroke-linecap="round"><path d="M-12,-13H12M-4.5,-16V-10M4.5,-16V-10"/><path d="M-9.5,-8.3H-2.5M2.5,-8.3H9.5M-11.5,-3.4H11.5"/><path d="M0,-1.18C5.47,1.16 7.30,4.81 7.30,8.10C7.30,12.11 4.02,14.30 0,14.30C-4.02,14.30 -7.30,12.11 -7.30,8.10C-7.30,4.81 -5.47,1.16 0,-1.18Z" stroke-width="1.7"/><path d="M0,2.12C3.60,3.66 4.80,6.06 4.80,8.22C4.80,10.86 2.64,12.30 0,12.30C-2.64,12.30 -4.80,10.86 -4.80,8.22C-4.80,6.06 -3.60,3.66 0,2.12Z" stroke-width="1.7"/><path d="M0,5.31C1.80,6.08 2.40,7.28 2.40,8.36C2.40,9.68 1.32,10.40 0,10.40C-1.32,10.40 -2.40,9.68 -2.40,8.36C-2.40,7.28 -1.80,6.08 0,5.31Z" stroke-width="1.6"/><path d="M-10.6,5.5C-11.8,8 -11.6,11 -10,13.5M10.6,2C12,4.500 12.2,7.500 11.2,10.5" stroke-width="1.7"/></g><ellipse cx="1.5" cy="17" rx="8.5" ry="2.2" fill="#777" opacity="0.16"/></g><text x="17.5" y="-1" class="wg">国际大蒜贸易网</text><text x="20.5" y="14.5" class="wo">www.51garlic.com</text></g>
<g transform="translate(385.3,318.2) rotate(-24.3)"><g transform="translate(-1.7,0.7) scale(0.88)"><g fill="none" stroke="#3f9a4c" stroke-width="1.9" stroke-linecap="round"><path d="M-12,-13H12M-4.5,-16V-10M4.5,-16V-10"/><path d="M-9.5,-8.3H-2.5M2.5,-8.3H9.5M-11.5,-3.4H11.5"/><path d="M0,-1.18C5.47,1.16 7.30,4.81 7.30,8.10C7.30,12.11 4.02,14.30 0,14.30C-4.02,14.30 -7.30,12.11 -7.30,8.10C-7.30,4.81 -5.47,1.16 0,-1.18Z" stroke-width="1.7"/><path d="M0,2.12C3.60,3.66 4.80,6.06 4.80,8.22C4.80,10.86 2.64,12.30 0,12.30C-2.64,12.30 -4.80,10.86 -4.80,8.22C-4.80,6.06 -3.60,3.66 0,2.12Z" stroke-width="1.7"/><path d="M0,5.31C1.80,6.08 2.40,7.28 2.40,8.36C2.40,9.68 1.32,10.40 0,10.40C-1.32,10.40 -2.40,9.68 -2.40,8.36C-2.40,7.28 -1.80,6.08 0,5.31Z" stroke-width="1.6"/><path d="M-10.6,5.5C-11.8,8 -11.6,11 -10,13.5M10.6,2C12,4.500 12.2,7.500 11.2,10.5" stroke-width="1.7"/></g><ellipse cx="1.5" cy="17" rx="8.5" ry="2.2" fill="#777" opacity="0.16"/></g><text x="17.5" y="-1" class="wg">国际大蒜贸易网</text><text x="20.5" y="14.5" class="wo">www.51garlic.com</text></g>
<g transform="translate(549.4,316.5) rotate(-24.3)"><g transform="translate(-1.7,0.7) scale(0.88)"><g fill="none" stroke="#3f9a4c" stroke-width="1.9" stroke-linecap="round"><path d="M-12,-13H12M-4.5,-16V-10M4.5,-16V-10"/><path d="M-9.5,-8.3H-2.5M2.5,-8.3H9.5M-11.5,-3.4H11.5"/><path d="M0,-1.18C5.47,1.16 7.30,4.81 7.30,8.10C7.30,12.11 4.02,14.30 0,14.30C-4.02,14.30 -7.30,12.11 -7.30,8.10C-7.30,4.81 -5.47,1.16 0,-1.18Z" stroke-width="1.7"/><path d="M0,2.12C3.60,3.66 4.80,6.06 4.80,8.22C4.80,10.86 2.64,12.30 0,12.30C-2.64,12.30 -4.80,10.86 -4.80,8.22C-4.80,6.06 -3.60,3.66 0,2.12Z" stroke-width="1.7"/><path d="M0,5.31C1.80,6.08 2.40,7.28 2.40,8.36C2.40,9.68 1.32,10.40 0,10.40C-1.32,10.40 -2.40,9.68 -2.40,8.36C-2.40,7.28 -1.80,6.08 0,5.31Z" stroke-width="1.6"/><path d="M-10.6,5.5C-11.8,8 -11.6,11 -10,13.5M10.6,2C12,4.500 12.2,7.500 11.2,10.5" stroke-width="1.7"/></g><ellipse cx="1.5" cy="17" rx="8.5" ry="2.2" fill="#777" opacity="0.16"/></g><text x="17.5" y="-1" class="wg">国际大蒜贸易网</text><text x="20.5" y="14.5" class="wo">www.51garlic.com</text></g>
<g transform="translate(720.5,318.2) rotate(-24.3)"><g transform="translate(-1.7,0.7) scale(0.88)"><g fill="none" stroke="#3f9a4c" stroke-width="1.9" stroke-linecap="round"><path d="M-12,-13H12M-4.5,-16V-10M4.5,-16V-10"/><path d="M-9.5,-8.3H-2.5M2.5,-8.3H9.5M-11.5,-3.4H11.5"/><path d="M0,-1.18C5.47,1.16 7.30,4.81 7.30,8.10C7.30,12.11 4.02,14.30 0,14.30C-4.02,14.30 -7.30,12.11 -7.30,8.10C-7.30,4.81 -5.47,1.16 0,-1.18Z" stroke-width="1.7"/><path d="M0,2.12C3.60,3.66 4.80,6.06 4.80,8.22C4.80,10.86 2.64,12.30 0,12.30C-2.64,12.30 -4.80,10.86 -4.80,8.22C-4.80,6.06 -3.60,3.66 0,2.12Z" stroke-width="1.7"/><path d="M0,5.31C1.80,6.08 2.40,7.28 2.40,8.36C2.40,9.68 1.32,10.40 0,10.40C-1.32,10.40 -2.40,9.68 -2.40,8.36C-2.40,7.28 -1.80,6.08 0,5.31Z" stroke-width="1.6"/><path d="M-10.6,5.5C-11.8,8 -11.6,11 -10,13.5M10.6,2C12,4.500 12.2,7.500 11.2,10.5" stroke-width="1.7"/></g><ellipse cx="1.5" cy="17" rx="8.5" ry="2.2" fill="#777" opacity="0.16"/></g><text x="17.5" y="-1" class="wg">国际大蒜贸易网</text><text x="20.5" y="14.5" class="wo">www.51garlic.com</text></g>
<g transform="translate(35.0,390.9) rotate(-24.3)"><g transform="translate(-1.7,0.7) scale(0.88)"><g fill="none" stroke="#3f9a4c" stroke-width="1.9" stroke-linecap="round"><path d="M-12,-13H12M-4.5,-16V-10M4.5,-16V-10"/><path d="M-9.5,-8.3H-2.5M2.5,-8.3H9.5M-11.5,-3.4H11.5"/><path d="M0,-1.18C5.47,1.16 7.30,4.81 7.30,8.10C7.30,12.11 4.02,14.30 0,14.30C-4.02,14.30 -7.30,12.11 -7.30,8.10C-7.30,4.81 -5.47,1.16 0,-1.18Z" stroke-width="1.7"/><path d="M0,2.12C3.60,3.66 4.80,6.06 4.80,8.22C4.80,10.86 2.64,12.30 0,12.30C-2.64,12.30 -4.80,10.86 -4.80,8.22C-4.80,6.06 -3.60,3.66 0,2.12Z" stroke-width="1.7"/><path d="M0,5.31C1.80,6.08 2.40,7.28 2.40,8.36C2.40,9.68 1.32,10.40 0,10.40C-1.32,10.40 -2.40,9.68 -2.40,8.36C-2.40,7.28 -1.80,6.08 0,5.31Z" stroke-width="1.6"/><path d="M-10.6,5.5C-11.8,8 -11.6,11 -10,13.5M10.6,2C12,4.500 12.2,7.500 11.2,10.5" stroke-width="1.7"/></g><ellipse cx="1.5" cy="17" rx="8.5" ry="2.2" fill="#777" opacity="0.16"/></g><text x="17.5" y="-1" class="wg">国际大蒜贸易网</text><text x="20.5" y="14.5" class="wo">www.51garlic.com</text></g>
<g transform="translate(385.3,391.9) rotate(-24.3)"><g transform="translate(-1.7,0.7) scale(0.88)"><g fill="none" stroke="#3f9a4c" stroke-width="1.9" stroke-linecap="round"><path d="M-12,-13H12M-4.5,-16V-10M4.5,-16V-10"/><path d="M-9.5,-8.3H-2.5M2.5,-8.3H9.5M-11.5,-3.4H11.5"/><path d="M0,-1.18C5.47,1.16 7.30,4.81 7.30,8.10C7.30,12.11 4.02,14.30 0,14.30C-4.02,14.30 -7.30,12.11 -7.30,8.10C-7.30,4.81 -5.47,1.16 0,-1.18Z" stroke-width="1.7"/><path d="M0,2.12C3.60,3.66 4.80,6.06 4.80,8.22C4.80,10.86 2.64,12.30 0,12.30C-2.64,12.30 -4.80,10.86 -4.80,8.22C-4.80,6.06 -3.60,3.66 0,2.12Z" stroke-width="1.7"/><path d="M0,5.31C1.80,6.08 2.40,7.28 2.40,8.36C2.40,9.68 1.32,10.40 0,10.40C-1.32,10.40 -2.40,9.68 -2.40,8.36C-2.40,7.28 -1.80,6.08 0,5.31Z" stroke-width="1.6"/><path d="M-10.6,5.5C-11.8,8 -11.6,11 -10,13.5M10.6,2C12,4.500 12.2,7.500 11.2,10.5" stroke-width="1.7"/></g><ellipse cx="1.5" cy="17" rx="8.5" ry="2.2" fill="#777" opacity="0.16"/></g><text x="17.5" y="-1" class="wg">国际大蒜贸易网</text><text x="20.5" y="14.5" class="wo">www.51garlic.com</text></g>
<g transform="translate(549.4,391.9) rotate(-24.3)"><g transform="translate(-1.7,0.7) scale(0.88)"><g fill="none" stroke="#3f9a4c" stroke-width="1.9" stroke-linecap="round"><path d="M-12,-13H12M-4.5,-16V-10M4.5,-16V-10"/><path d="M-9.5,-8.3H-2.5M2.5,-8.3H9.5M-11.5,-3.4H11.5"/><path d="M0,-1.18C5.47,1.16 7.30,4.81 7.30,8.10C7.30,12.11 4.02,14.30 0,14.30C-4.02,14.30 -7.30,12.11 -7.30,8.10C-7.30,4.81 -5.47,1.16 0,-1.18Z" stroke-width="1.7"/><path d="M0,2.12C3.60,3.66 4.80,6.06 4.80,8.22C4.80,10.86 2.64,12.30 0,12.30C-2.64,12.30 -4.80,10.86 -4.80,8.22C-4.80,6.06 -3.60,3.66 0,2.12Z" stroke-width="1.7"/><path d="M0,5.31C1.80,6.08 2.40,7.28 2.40,8.36C2.40,9.68 1.32,10.40 0,10.40C-1.32,10.40 -2.40,9.68 -2.40,8.36C-2.40,7.28 -1.80,6.08 0,5.31Z" stroke-width="1.6"/><path d="M-10.6,5.5C-11.8,8 -11.6,11 -10,13.5M10.6,2C12,4.500 12.2,7.500 11.2,10.5" stroke-width="1.7"/></g><ellipse cx="1.5" cy="17" rx="8.5" ry="2.2" fill="#777" opacity="0.16"/></g><text x="17.5" y="-1" class="wg">国际大蒜贸易网</text><text x="20.5" y="14.5" class="wo">www.51garlic.com</text></g>
<g transform="translate(39.7,478.4) rotate(-24.3)"><g transform="translate(-1.7,0.7) scale(0.88)"><g fill="none" stroke="#3f9a4c" stroke-width="1.9" stroke-linecap="round"><path d="M-12,-13H12M-4.5,-16V-10M4.5,-16V-10"/><path d="M-9.5,-8.3H-2.5M2.5,-8.3H9.5M-11.5,-3.4H11.5"/><path d="M0,-1.18C5.47,1.16 7.30,4.81 7.30,8.10C7.30,12.11 4.02,14.30 0,14.30C-4.02,14.30 -7.30,12.11 -7.30,8.10C-7.30,4.81 -5.47,1.16 0,-1.18Z" stroke-width="1.7"/><path d="M0,2.12C3.60,3.66 4.80,6.06 4.80,8.22C4.80,10.86 2.64,12.30 0,12.30C-2.64,12.30 -4.80,10.86 -4.80,8.22C-4.80,6.06 -3.60,3.66 0,2.12Z" stroke-width="1.7"/><path d="M0,5.31C1.80,6.08 2.40,7.28 2.40,8.36C2.40,9.68 1.32,10.40 0,10.40C-1.32,10.40 -2.40,9.68 -2.40,8.36C-2.40,7.28 -1.80,6.08 0,5.31Z" stroke-width="1.6"/><path d="M-10.6,5.5C-11.8,8 -11.6,11 -10,13.5M10.6,2C12,4.500 12.2,7.500 11.2,10.5" stroke-width="1.7"/></g><ellipse cx="1.5" cy="17" rx="8.5" ry="2.2" fill="#777" opacity="0.16"/></g><text x="17.5" y="-1" class="wg">国际大蒜贸易网</text><text x="20.5" y="14.5" class="wo">www.51garlic.com</text></g>
<g transform="translate(210.6,475.2) rotate(-24.3)"><g transform="translate(-1.7,0.7) scale(0.88)"><g fill="none" stroke="#3f9a4c" stroke-width="1.9" stroke-linecap="round"><path d="M-12,-13H12M-4.5,-16V-10M4.5,-16V-10"/><path d="M-9.5,-8.3H-2.5M2.5,-8.3H9.5M-11.5,-3.4H11.5"/><path d="M0,-1.18C5.47,1.16 7.30,4.81 7.30,8.10C7.30,12.11 4.02,14.30 0,14.30C-4.02,14.30 -7.30,12.11 -7.30,8.10C-7.30,4.81 -5.47,1.16 0,-1.18Z" stroke-width="1.7"/><path d="M0,2.12C3.60,3.66 4.80,6.06 4.80,8.22C4.80,10.86 2.64,12.30 0,12.30C-2.64,12.30 -4.80,10.86 -4.80,8.22C-4.80,6.06 -3.60,3.66 0,2.12Z" stroke-width="1.7"/><path d="M0,5.31C1.80,6.08 2.40,7.28 2.40,8.36C2.40,9.68 1.32,10.40 0,10.40C-1.32,10.40 -2.40,9.68 -2.40,8.36C-2.40,7.28 -1.80,6.08 0,5.31Z" stroke-width="1.6"/><path d="M-10.6,5.5C-11.8,8 -11.6,11 -10,13.5M10.6,2C12,4.500 12.2,7.500 11.2,10.5" stroke-width="1.7"/></g><ellipse cx="1.5" cy="17" rx="8.5" ry="2.2" fill="#777" opacity="0.16"/></g><text x="17.5" y="-1" class="wg">国际大蒜贸易网</text><text x="20.5" y="14.5" class="wo">www.51garlic.com</text></g>
<g transform="translate(390.3,483.4) rotate(-24.3)"><g transform="translate(-1.7,0.7) scale(0.88)"><g fill="none" stroke="#3f9a4c" stroke-width="1.9" stroke-linecap="round"><path d="M-12,-13H12M-4.5,-16V-10M4.5,-16V-10"/><path d="M-9.5,-8.3H-2.5M2.5,-8.3H9.5M-11.5,-3.4H11.5"/><path d="M0,-1.18C5.47,1.16 7.30,4.81 7.30,8.10C7.30,12.11 4.02,14.30 0,14.30C-4.02,14.30 -7.30,12.11 -7.30,8.10C-7.30,4.81 -5.47,1.16 0,-1.18Z" stroke-width="1.7"/><path d="M0,2.12C3.60,3.66 4.80,6.06 4.80,8.22C4.80,10.86 2.64,12.30 0,12.30C-2.64,12.30 -4.80,10.86 -4.80,8.22C-4.80,6.06 -3.60,3.66 0,2.12Z" stroke-width="1.7"/><path d="M0,5.31C1.80,6.08 2.40,7.28 2.40,8.36C2.40,9.68 1.32,10.40 0,10.40C-1.32,10.40 -2.40,9.68 -2.40,8.36C-2.40,7.28 -1.80,6.08 0,5.31Z" stroke-width="1.6"/><path d="M-10.6,5.5C-11.8,8 -11.6,11 -10,13.5M10.6,2C12,4.500 12.2,7.500 11.2,10.5" stroke-width="1.7"/></g><ellipse cx="1.5" cy="17" rx="8.5" ry="2.2" fill="#777" opacity="0.16"/></g><text x="17.5" y="-1" class="wg">国际大蒜贸易网</text><text x="20.5" y="14.5" class="wo">www.51garlic.com</text></g>
<g transform="translate(552.7,483.4) rotate(-24.3)"><g transform="translate(-1.7,0.7) scale(0.88)"><g fill="none" stroke="#3f9a4c" stroke-width="1.9" stroke-linecap="round"><path d="M-12,-13H12M-4.5,-16V-10M4.5,-16V-10"/><path d="M-9.5,-8.3H-2.5M2.5,-8.3H9.5M-11.5,-3.4H11.5"/><path d="M0,-1.18C5.47,1.16 7.30,4.81 7.30,8.10C7.30,12.11 4.02,14.30 0,14.30C-4.02,14.30 -7.30,12.11 -7.30,8.10C-7.30,4.81 -5.47,1.16 0,-1.18Z" stroke-width="1.7"/><path d="M0,2.12C3.60,3.66 4.80,6.06 4.80,8.22C4.80,10.86 2.64,12.30 0,12.30C-2.64,12.30 -4.80,10.86 -4.80,8.22C-4.80,6.06 -3.60,3.66 0,2.12Z" stroke-width="1.7"/><path d="M0,5.31C1.80,6.08 2.40,7.28 2.40,8.36C2.40,9.68 1.32,10.40 0,10.40C-1.32,10.40 -2.40,9.68 -2.40,8.36C-2.40,7.28 -1.80,6.08 0,5.31Z" stroke-width="1.6"/><path d="M-10.6,5.5C-11.8,8 -11.6,11 -10,13.5M10.6,2C12,4.500 12.2,7.500 11.2,10.5" stroke-width="1.7"/></g><ellipse cx="1.5" cy="17" rx="8.5" ry="2.2" fill="#777" opacity="0.16"/></g><text x="17.5" y="-1" class="wg">国际大蒜贸易网</text><text x="20.5" y="14.5" class="wo">www.51garlic.com</text></g>
<g transform="translate(725.5,481.7) rotate(-24.3)"><g transform="translate(-1.7,0.7) scale(0.88)"><g fill="none" stroke="#3f9a4c" stroke-width="1.9" stroke-linecap="round"><path d="M-12,-13H12M-4.5,-16V-10M4.5,-16V-10"/><path d="M-9.5,-8.3H-2.5M2.5,-8.3H9.5M-11.5,-3.4H11.5"/><path d="M0,-1.18C5.47,1.16 7.30,4.81 7.30,8.10C7.30,12.11 4.02,14.30 0,14.30C-4.02,14.30 -7.30,12.11 -7.30,8.10C-7.30,4.81 -5.47,1.16 0,-1.18Z" stroke-width="1.7"/><path d="M0,2.12C3.60,3.66 4.80,6.06 4.80,8.22C4.80,10.86 2.64,12.30 0,12.30C-2.64,12.30 -4.80,10.86 -4.80,8.22C-4.80,6.06 -3.60,3.66 0,2.12Z" stroke-width="1.7"/><path d="M0,5.31C1.80,6.08 2.40,7.28 2.40,8.36C2.40,9.68 1.32,10.40 0,10.40C-1.32,10.40 -2.40,9.68 -2.40,8.36C-2.40,7.28 -1.80,6.08 0,5.31Z" stroke-width="1.6"/><path d="M-10.6,5.5C-11.8,8 -11.6,11 -10,13.5M10.6,2C12,4.500 12.2,7.500 11.2,10.5" stroke-width="1.7"/></g><ellipse cx="1.5" cy="17" rx="8.5" ry="2.2" fill="#777" opacity="0.16"/></g><text x="17.5" y="-1" class="wg">国际大蒜贸易网</text><text x="20.5" y="14.5" class="wo">www.51garlic.com</text></g>
<g transform="translate(38.2,550.4) rotate(-24.3)"><g transform="translate(-1.7,0.7) scale(0.88)"><g fill="none" stroke="#3f9a4c" stroke-width="1.9" stroke-linecap="round"><path d="M-12,-13H12M-4.5,-16V-10M4.5,-16V-10"/><path d="M-9.5,-8.3H-2.5M2.5,-8.3H9.5M-11.5,-3.4H11.5"/><path d="M0,-1.18C5.47,1.16 7.30,4.81 7.30,8.10C7.30,12.11 4.02,14.30 0,14.30C-4.02,14.30 -7.30,12.11 -7.30,8.10C-7.30,4.81 -5.47,1.16 0,-1.18Z" stroke-width="1.7"/><path d="M0,2.12C3.60,3.66 4.80,6.06 4.80,8.22C4.80,10.86 2.64,12.30 0,12.30C-2.64,12.30 -4.80,10.86 -4.80,8.22C-4.80,6.06 -3.60,3.66 0,2.12Z" stroke-width="1.7"/><path d="M0,5.31C1.80,6.08 2.40,7.28 2.40,8.36C2.40,9.68 1.32,10.40 0,10.40C-1.32,10.40 -2.40,9.68 -2.40,8.36C-2.40,7.28 -1.80,6.08 0,5.31Z" stroke-width="1.6"/><path d="M-10.6,5.5C-11.8,8 -11.6,11 -10,13.5M10.6,2C12,4.500 12.2,7.500 11.2,10.5" stroke-width="1.7"/></g><ellipse cx="1.5" cy="17" rx="8.5" ry="2.2" fill="#777" opacity="0.16"/></g><text x="17.5" y="-1" class="wg">国际大蒜贸易网</text><text x="20.5" y="14.5" class="wo">www.51garlic.com</text></g>
<g transform="translate(209.1,550.4) rotate(-24.3)"><g transform="translate(-1.7,0.7) scale(0.88)"><g fill="none" stroke="#3f9a4c" stroke-width="1.9" stroke-linecap="round"><path d="M-12,-13H12M-4.5,-16V-10M4.5,-16V-10"/><path d="M-9.5,-8.3H-2.5M2.5,-8.3H9.5M-11.5,-3.4H11.5"/><path d="M0,-1.18C5.47,1.16 7.30,4.81 7.30,8.10C7.30,12.11 4.02,14.30 0,14.30C-4.02,14.30 -7.30,12.11 -7.30,8.10C-7.30,4.81 -5.47,1.16 0,-1.18Z" stroke-width="1.7"/><path d="M0,2.12C3.60,3.66 4.80,6.06 4.80,8.22C4.80,10.86 2.64,12.30 0,12.30C-2.64,12.30 -4.80,10.86 -4.80,8.22C-4.80,6.06 -3.60,3.66 0,2.12Z" stroke-width="1.7"/><path d="M0,5.31C1.80,6.08 2.40,7.28 2.40,8.36C2.40,9.68 1.32,10.40 0,10.40C-1.32,10.40 -2.40,9.68 -2.40,8.36C-2.40,7.28 -1.80,6.08 0,5.31Z" stroke-width="1.6"/><path d="M-10.6,5.5C-11.8,8 -11.6,11 -10,13.5M10.6,2C12,4.500 12.2,7.500 11.2,10.5" stroke-width="1.7"/></g><ellipse cx="1.5" cy="17" rx="8.5" ry="2.2" fill="#777" opacity="0.16"/></g><text x="17.5" y="-1" class="wg">国际大蒜贸易网</text><text x="20.5" y="14.5" class="wo">www.51garlic.com</text></g>
<g transform="translate(390.3,553.7) rotate(-24.3)"><g transform="translate(-1.7,0.7) scale(0.88)"><g fill="none" stroke="#3f9a4c" stroke-width="1.9" stroke-linecap="round"><path d="M-12,-13H12M-4.5,-16V-10M4.5,-16V-10"/><path d="M-9.5,-8.3H-2.5M2.5,-8.3H9.5M-11.5,-3.4H11.5"/><path d="M0,-1.18C5.47,1.16 7.30,4.81 7.30,8.10C7.30,12.11 4.02,14.30 0,14.30C-4.02,14.30 -7.30,12.11 -7.30,8.10C-7.30,4.81 -5.47,1.16 0,-1.18Z" stroke-width="1.7"/><path d="M0,2.12C3.60,3.66 4.80,6.06 4.80,8.22C4.80,10.86 2.64,12.30 0,12.30C-2.64,12.30 -4.80,10.86 -4.80,8.22C-4.80,6.06 -3.60,3.66 0,2.12Z" stroke-width="1.7"/><path d="M0,5.31C1.80,6.08 2.40,7.28 2.40,8.36C2.40,9.68 1.32,10.40 0,10.40C-1.32,10.40 -2.40,9.68 -2.40,8.36C-2.40,7.28 -1.80,6.08 0,5.31Z" stroke-width="1.6"/><path d="M-10.6,5.5C-11.8,8 -11.6,11 -10,13.5M10.6,2C12,4.500 12.2,7.500 11.2,10.5" stroke-width="1.7"/></g><ellipse cx="1.5" cy="17" rx="8.5" ry="2.2" fill="#777" opacity="0.16"/></g><text x="17.5" y="-1" class="wg">国际大蒜贸易网</text><text x="20.5" y="14.5" class="wo">www.51garlic.com</text></g>
<g transform="translate(552.7,553.7) rotate(-24.3)"><g transform="translate(-1.7,0.7) scale(0.88)"><g fill="none" stroke="#3f9a4c" stroke-width="1.9" stroke-linecap="round"><path d="M-12,-13H12M-4.5,-16V-10M4.5,-16V-10"/><path d="M-9.5,-8.3H-2.5M2.5,-8.3H9.5M-11.5,-3.4H11.5"/><path d="M0,-1.18C5.47,1.16 7.30,4.81 7.30,8.10C7.30,12.11 4.02,14.30 0,14.30C-4.02,14.30 -7.30,12.11 -7.30,8.10C-7.30,4.81 -5.47,1.16 0,-1.18Z" stroke-width="1.7"/><path d="M0,2.12C3.60,3.66 4.80,6.06 4.80,8.22C4.80,10.86 2.64,12.30 0,12.30C-2.64,12.30 -4.80,10.86 -4.80,8.22C-4.80,6.06 -3.60,3.66 0,2.12Z" stroke-width="1.7"/><path d="M0,5.31C1.80,6.08 2.40,7.28 2.40,8.36C2.40,9.68 1.32,10.40 0,10.40C-1.32,10.40 -2.40,9.68 -2.40,8.36C-2.40,7.28 -1.80,6.08 0,5.31Z" stroke-width="1.6"/><path d="M-10.6,5.5C-11.8,8 -11.6,11 -10,13.5M10.6,2C12,4.500 12.2,7.500 11.2,10.5" stroke-width="1.7"/></g><ellipse cx="1.5" cy="17" rx="8.5" ry="2.2" fill="#777" opacity="0.16"/></g><text x="17.5" y="-1" class="wg">国际大蒜贸易网</text><text x="20.5" y="14.5" class="wo">www.51garlic.com</text></g>
<g transform="translate(725.5,553.7) rotate(-24.3)"><g transform="translate(-1.7,0.7) scale(0.88)"><g fill="none" stroke="#3f9a4c" stroke-width="1.9" stroke-linecap="round"><path d="M-12,-13H12M-4.5,-16V-10M4.5,-16V-10"/><path d="M-9.5,-8.3H-2.5M2.5,-8.3H9.5M-11.5,-3.4H11.5"/><path d="M0,-1.18C5.47,1.16 7.30,4.81 7.30,8.10C7.30,12.11 4.02,14.30 0,14.30C-4.02,14.30 -7.30,12.11 -7.30,8.10C-7.30,4.81 -5.47,1.16 0,-1.18Z" stroke-width="1.7"/><path d="M0,2.12C3.60,3.66 4.80,6.06 4.80,8.22C4.80,10.86 2.64,12.30 0,12.30C-2.64,12.30 -4.80,10.86 -4.80,8.22C-4.80,6.06 -3.60,3.66 0,2.12Z" stroke-width="1.7"/><path d="M0,5.31C1.80,6.08 2.40,7.28 2.40,8.36C2.40,9.68 1.32,10.40 0,10.40C-1.32,10.40 -2.40,9.68 -2.40,8.36C-2.40,7.28 -1.80,6.08 0,5.31Z" stroke-width="1.6"/><path d="M-10.6,5.5C-11.8,8 -11.6,11 -10,13.5M10.6,2C12,4.500 12.2,7.500 11.2,10.5" stroke-width="1.7"/></g><ellipse cx="1.5" cy="17" rx="8.5" ry="2.2" fill="#777" opacity="0.16"/></g><text x="17.5" y="-1" class="wg">国际大蒜贸易网</text><text x="20.5" y="14.5" class="wo">www.51garlic.com</text></g>
<g transform="translate(44.5,626.0) rotate(-24.3)"><g transform="translate(-1.7,0.7) scale(0.88)"><g fill="none" stroke="#3f9a4c" stroke-width="1.9" stroke-linecap="round"><path d="M-12,-13H12M-4.5,-16V-10M4.5,-16V-10"/><path d="M-9.5,-8.3H-2.5M2.5,-8.3H9.5M-11.5,-3.4H11.5"/><path d="M0,-1.18C5.47,1.16 7.30,4.81 7.30,8.10C7.30,12.11 4.02,14.30 0,14.30C-4.02,14.30 -7.30,12.11 -7.30,8.10C-7.30,4.81 -5.47,1.16 0,-1.18Z" stroke-width="1.7"/><path d="M0,2.12C3.60,3.66 4.80,6.06 4.80,8.22C4.80,10.86 2.64,12.30 0,12.30C-2.64,12.30 -4.80,10.86 -4.80,8.22C-4.80,6.06 -3.60,3.66 0,2.12Z" stroke-width="1.7"/><path d="M0,5.31C1.80,6.08 2.40,7.28 2.40,8.36C2.40,9.68 1.32,10.40 0,10.40C-1.32,10.40 -2.40,9.68 -2.40,8.36C-2.40,7.28 -1.80,6.08 0,5.31Z" stroke-width="1.6"/><path d="M-10.6,5.5C-11.8,8 -11.6,11 -10,13.5M10.6,2C12,4.500 12.2,7.500 11.2,10.5" stroke-width="1.7"/></g><ellipse cx="1.5" cy="17" rx="8.5" ry="2.2" fill="#777" opacity="0.16"/></g><text x="17.5" y="-1" class="wg">国际大蒜贸易网</text><text x="20.5" y="14.5" class="wo">www.51garlic.com</text></g>
<g transform="translate(213.5,626.0) rotate(-24.3)"><g transform="translate(-1.7,0.7) scale(0.88)"><g fill="none" stroke="#3f9a4c" stroke-width="1.9" stroke-linecap="round"><path d="M-12,-13H12M-4.5,-16V-10M4.5,-16V-10"/><path d="M-9.5,-8.3H-2.5M2.5,-8.3H9.5M-11.5,-3.4H11.5"/><path d="M0,-1.18C5.47,1.16 7.30,4.81 7.30,8.10C7.30,12.11 4.02,14.30 0,14.30C-4.02,14.30 -7.30,12.11 -7.30,8.10C-7.30,4.81 -5.47,1.16 0,-1.18Z" stroke-width="1.7"/><path d="M0,2.12C3.60,3.66 4.80,6.06 4.80,8.22C4.80,10.86 2.64,12.30 0,12.30C-2.64,12.30 -4.80,10.86 -4.80,8.22C-4.80,6.06 -3.60,3.66 0,2.12Z" stroke-width="1.7"/><path d="M0,5.31C1.80,6.08 2.40,7.28 2.40,8.36C2.40,9.68 1.32,10.40 0,10.40C-1.32,10.40 -2.40,9.68 -2.40,8.36C-2.40,7.28 -1.80,6.08 0,5.31Z" stroke-width="1.6"/><path d="M-10.6,5.5C-11.8,8 -11.6,11 -10,13.5M10.6,2C12,4.500 12.2,7.500 11.2,10.5" stroke-width="1.7"/></g><ellipse cx="1.5" cy="17" rx="8.5" ry="2.2" fill="#777" opacity="0.16"/></g><text x="17.5" y="-1" class="wg">国际大蒜贸易网</text><text x="20.5" y="14.5" class="wo">www.51garlic.com</text></g>
<g transform="translate(392.5,629.0) rotate(-24.3)"><g transform="translate(-1.7,0.7) scale(0.88)"><g fill="none" stroke="#3f9a4c" stroke-width="1.9" stroke-linecap="round"><path d="M-12,-13H12M-4.5,-16V-10M4.5,-16V-10"/><path d="M-9.5,-8.3H-2.5M2.5,-8.3H9.5M-11.5,-3.4H11.5"/><path d="M0,-1.18C5.47,1.16 7.30,4.81 7.30,8.10C7.30,12.11 4.02,14.30 0,14.30C-4.02,14.30 -7.30,12.11 -7.30,8.10C-7.30,4.81 -5.47,1.16 0,-1.18Z" stroke-width="1.7"/><path d="M0,2.12C3.60,3.66 4.80,6.06 4.80,8.22C4.80,10.86 2.64,12.30 0,12.30C-2.64,12.30 -4.80,10.86 -4.80,8.22C-4.80,6.06 -3.60,3.66 0,2.12Z" stroke-width="1.7"/><path d="M0,5.31C1.80,6.08 2.40,7.28 2.40,8.36C2.40,9.68 1.32,10.40 0,10.40C-1.32,10.40 -2.40,9.68 -2.40,8.36C-2.40,7.28 -1.80,6.08 0,5.31Z" stroke-width="1.6"/><path d="M-10.6,5.5C-11.8,8 -11.6,11 -10,13.5M10.6,2C12,4.500 12.2,7.500 11.2,10.5" stroke-width="1.7"/></g><ellipse cx="1.5" cy="17" rx="8.5" ry="2.2" fill="#777" opacity="0.16"/></g><text x="17.5" y="-1" class="wg">国际大蒜贸易网</text><text x="20.5" y="14.5" class="wo">www.51garlic.com</text></g>
<g transform="translate(561.5,629.0) rotate(-24.3)"><g transform="translate(-1.7,0.7) scale(0.88)"><g fill="none" stroke="#3f9a4c" stroke-width="1.9" stroke-linecap="round"><path d="M-12,-13H12M-4.5,-16V-10M4.5,-16V-10"/><path d="M-9.5,-8.3H-2.5M2.5,-8.3H9.5M-11.5,-3.4H11.5"/><path d="M0,-1.18C5.47,1.16 7.30,4.81 7.30,8.10C7.30,12.11 4.02,14.30 0,14.30C-4.02,14.30 -7.30,12.11 -7.30,8.10C-7.30,4.81 -5.47,1.16 0,-1.18Z" stroke-width="1.7"/><path d="M0,2.12C3.60,3.66 4.80,6.06 4.80,8.22C4.80,10.86 2.64,12.30 0,12.30C-2.64,12.30 -4.80,10.86 -4.80,8.22C-4.80,6.06 -3.60,3.66 0,2.12Z" stroke-width="1.7"/><path d="M0,5.31C1.80,6.08 2.40,7.28 2.40,8.36C2.40,9.68 1.32,10.40 0,10.40C-1.32,10.40 -2.40,9.68 -2.40,8.36C-2.40,7.28 -1.80,6.08 0,5.31Z" stroke-width="1.6"/><path d="M-10.6,5.5C-11.8,8 -11.6,11 -10,13.5M10.6,2C12,4.500 12.2,7.500 11.2,10.5" stroke-width="1.7"/></g><ellipse cx="1.5" cy="17" rx="8.5" ry="2.2" fill="#777" opacity="0.16"/></g><text x="17.5" y="-1" class="wg">国际大蒜贸易网</text><text x="20.5" y="14.5" class="wo">www.51garlic.com</text></g>
<g transform="translate(734.5,629.0) rotate(-24.3)"><g transform="translate(-1.7,0.7) scale(0.88)"><g fill="none" stroke="#3f9a4c" stroke-width="1.9" stroke-linecap="round"><path d="M-12,-13H12M-4.5,-16V-10M4.5,-16V-10"/><path d="M-9.5,-8.3H-2.5M2.5,-8.3H9.5M-11.5,-3.4H11.5"/><path d="M0,-1.18C5.47,1.16 7.30,4.81 7.30,8.10C7.30,12.11 4.02,14.30 0,14.30C-4.02,14.30 -7.30,12.11 -7.30,8.10C-7.30,4.81 -5.47,1.16 0,-1.18Z" stroke-width="1.7"/><path d="M0,2.12C3.60,3.66 4.80,6.06 4.80,8.22C4.80,10.86 2.64,12.30 0,12.30C-2.64,12.30 -4.80,10.86 -4.80,8.22C-4.80,6.06 -3.60,3.66 0,2.12Z" stroke-width="1.7"/><path d="M0,5.31C1.80,6.08 2.40,7.28 2.40,8.36C2.40,9.68 1.32,10.40 0,10.40C-1.32,10.40 -2.40,9.68 -2.40,8.36C-2.40,7.28 -1.80,6.08 0,5.31Z" stroke-width="1.6"/><path d="M-10.6,5.5C-11.8,8 -11.6,11 -10,13.5M10.6,2C12,4.500 12.2,7.500 11.2,10.5" stroke-width="1.7"/></g><ellipse cx="1.5" cy="17" rx="8.5" ry="2.2" fill="#777" opacity="0.16"/></g><text x="17.5" y="-1" class="wg">国际大蒜贸易网</text><text x="20.5" y="14.5" class="wo">www.51garlic.com</text></g>
</g>
</svg></body></html>
